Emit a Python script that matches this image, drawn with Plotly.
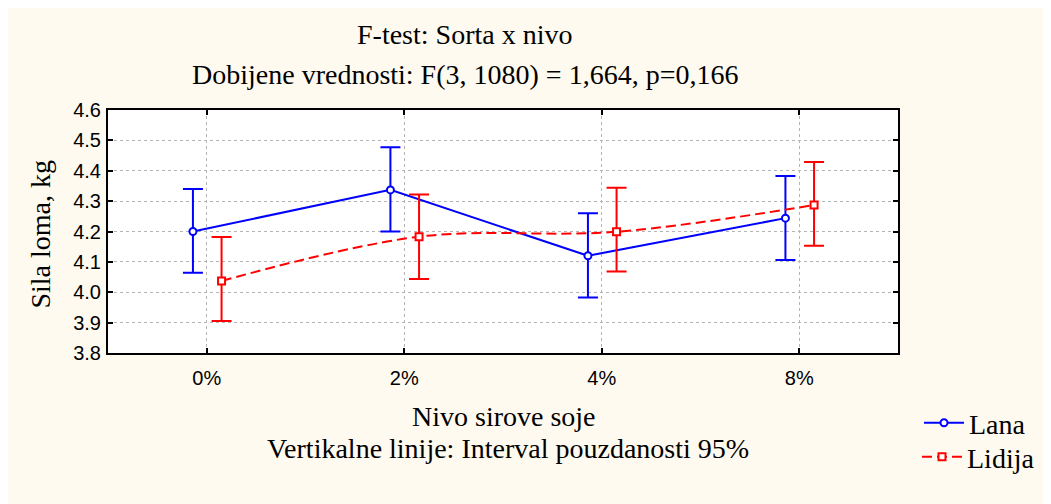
import plotly.graph_objects as go

# ---- data ----
categories = ["0%", "2%", "4%", "8%"]
lana_mean = [4.20, 4.337, 4.120, 4.244]
lana_low = [4.064, 4.200, 3.983, 4.106]
lana_high = [4.340, 4.477, 4.260, 4.383]
lidija_mean = [4.037, 4.183, 4.199, 4.287]
lidija_low = [3.905, 4.044, 4.068, 4.153]
lidija_high = [4.182, 4.322, 4.344, 4.429]
y_ticks = [3.8, 3.9, 4.0, 4.1, 4.2, 4.3, 4.4, 4.5, 4.6]

# ---- style ----
PAGE_OFF = 8                      # browser body margin
W, H = 1051 - PAGE_OFF, 504 - PAGE_OFF
L, R, T, B = 108 - PAGE_OFF, 899 - PAGE_OFF, 110 - PAGE_OFF, 353 - PAGE_OFF
CREAM = "#FFFAF0"
BLUE = "#0000FF"
RED = "#FF0000"
SERIF = "Liberation Serif, Times New Roman, serif"
SANS = "Liberation Sans, Arial, sans-serif"
off_lana, off_lidija = -0.07, 0.075


def px_x(p):  # page pixel -> paper coord
    return (p - PAGE_OFF - L) / (R - L)


def px_y(p):
    return (B - (p - PAGE_OFF)) / (B - T)


idx = list(range(len(categories)))

fig = go.Figure()
fig.add_trace(go.Scatter(
    x=[i + off_lana for i in idx], y=lana_mean, name="Lana", legend="legend",
    mode="lines+markers",
    line=dict(color=BLUE, width=2),
    marker=dict(symbol="circle", size=7, color="white", line=dict(color=BLUE, width=2)),
    error_y=dict(type="data", symmetric=False,
                 array=[h - m for h, m in zip(lana_high, lana_mean)],
                 arrayminus=[m - l for m, l in zip(lana_mean, lana_low)],
                 color=BLUE, thickness=2, width=10),
))
fig.add_trace(go.Scatter(
    x=[i + off_lidija for i in idx], y=lidija_mean, name="Lidija", legend="legend2",
    mode="lines+markers",
    line=dict(color=RED, width=2, dash="10px,5px", shape="spline", smoothing=1),
    marker=dict(symbol="square", size=7, color="white", line=dict(color=RED, width=2)),
    error_y=dict(type="data", symmetric=False,
                 array=[h - m for h, m in zip(lidija_high, lidija_mean)],
                 arrayminus=[m - l for m, l in zip(lidija_mean, lidija_low)],
                 color=RED, thickness=2, width=10),
))

axis_common = dict(
    showline=True, linecolor="black", linewidth=2, mirror="ticks",
    ticks="inside", ticklen=5, tickwidth=2, tickcolor="black",
    showgrid=True, gridcolor="#b4b4b4", gridwidth=1, griddash="dot",
    zeroline=False,
    tickfont=dict(family=SANS, size=20, color="black"),
)

fig.update_xaxes(range=[-0.5, 3.5], tickvals=idx, ticktext=categories,
                 ticklabelstandoff=6, **axis_common)
fig.update_yaxes(range=[3.8, 4.6], tickvals=y_ticks,
                 ticktext=[f"{v:.1f}" for v in y_ticks],
                 ticklabelstandoff=1, **axis_common)

annos = [
    dict(text="F-test: Sorta x nivo", x=px_x(465), y=px_y(35)),
    dict(text="Dobijene vrednosti: F(3, 1080) = 1,664, p=0,166", x=px_x(465), y=px_y(74)),
    dict(text="Nivo sirove soje", x=px_x(505), y=px_y(416.5)),
    dict(text="Vertikalne linije: Interval pouzdanosti 95%", x=px_x(509), y=px_y(448.5)),
    dict(text="Sila loma, kg", x=px_x(40), y=px_y(234.5), textangle=-90),
]
for a in annos:
    fig.add_annotation(xref="paper", yref="paper", showarrow=False,
                       xanchor="center", yanchor="middle",
                       font=dict(family=SERIF, size=28, color="black"), **a)

legend_common = dict(xanchor="left", yanchor="middle",
                     bgcolor="rgba(0,0,0,0)", borderwidth=0,
                     font=dict(family=SERIF, size=28, color="black"),
                     itemwidth=40)

fig.update_layout(
    width=W, height=H,
    margin=dict(l=L, r=W - R, t=T, b=H - B, pad=0),
    paper_bgcolor=CREAM, plot_bgcolor="white",
    showlegend=True,
    legend=dict(x=px_x(919), y=px_y(423), **legend_common),
    legend2=dict(x=px_x(917), y=px_y(457), **legend_common),
)

fig.write_html("out.html")
